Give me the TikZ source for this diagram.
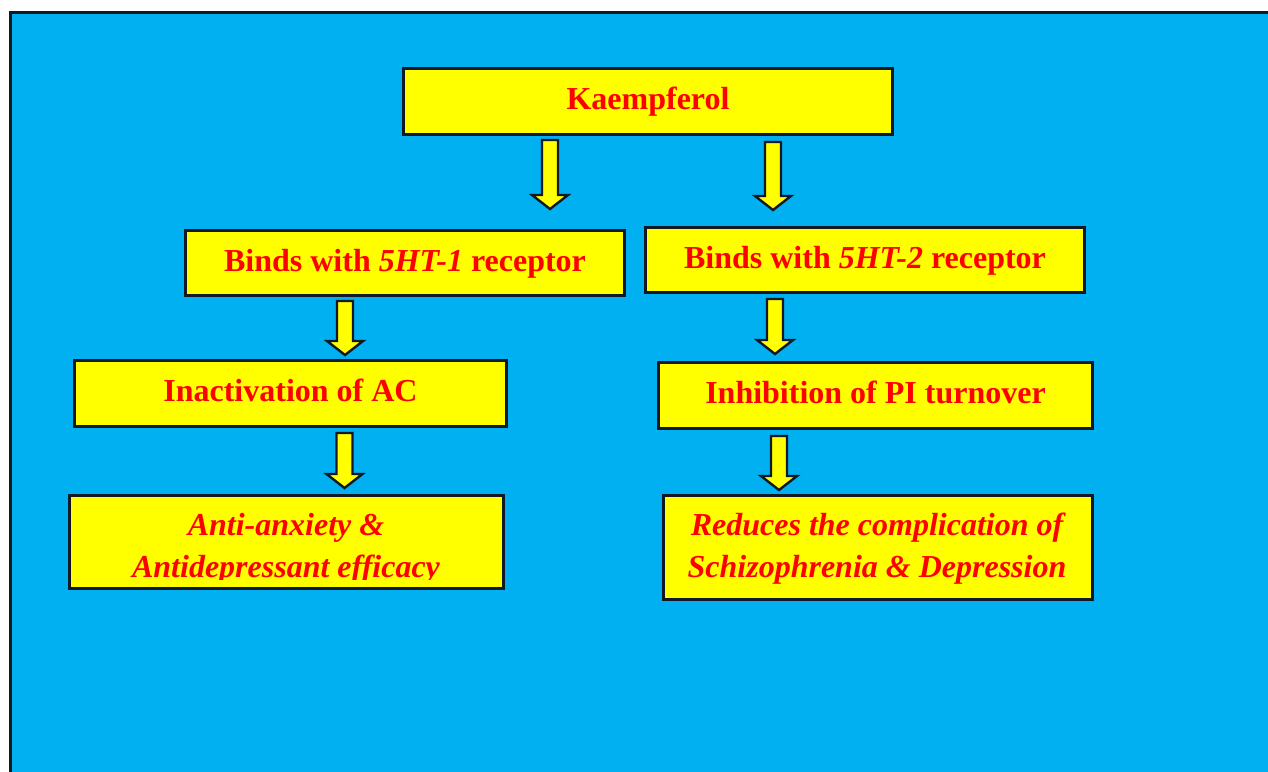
\documentclass[tikz,border=0pt]{standalone}
\usepackage{fontspec}
\setmainfont{Liberation Serif}
\definecolor{bg}{HTML}{00B0F0}
\definecolor{edge}{RGB}{18,24,36}
\definecolor{boxfill}{HTML}{FFFF00}
\definecolor{txtred}{HTML}{FF0000}
\newcommand\blockarr[3]{%
  \draw[arrowsty] (#1-8,#2) -- (#1+8,#2) -- (#1+8,#3-14) -- (#1+18,#3-14)
    -- (#1,#3) -- (#1-18,#3-14) -- (#1-8,#3-14) -- cycle;}
\begin{document}
\begin{tikzpicture}[x=1pt,y=-1pt,
  box/.style={draw=edge, line width=2.6, fill=boxfill, inner sep=0pt,
    text=txtred, font=\bfseries\fontsize{32}{42}\selectfont,
    text height=23pt, text depth=7pt, align=center},
  txt/.style={text=txtred, font=\bfseries\itshape\fontsize{32}{42}\selectfont,
    inner sep=0pt, align=center},
  arrowsty/.style={draw=edge, line width=2.4, fill=boxfill, line join=miter}]
\useasboundingbox (0,0) rectangle (1268,771);
\fill[white] (0,0) rectangle (1268,771);
\clip (0,0) rectangle (1268,771);
\draw[line width=3, draw=edge, fill=bg] (10,12) rectangle (1300,800);

\node[box, minimum width=489, minimum height=66] (k) at (648,101.5) {Kaempferol};
\node[box, minimum width=439, minimum height=65] (b1) at (405,263) {Binds with \textit{5HT-1} receptor};
\node[box, minimum width=439, minimum height=65] (b2) at (865,260) {Binds with \textit{5HT-2} receptor};
\node[box, minimum width=432, minimum height=66] (i1) at (290.5,393.5) {Inactivation of AC};
\node[box, minimum width=434, minimum height=66] (i2) at (875.5,395.5) {Inhibition of PI turnover};
\node[box, minimum width=434, minimum height=93] (r1) at (286.5,542) {};
\node[box, minimum width=429, minimum height=104] (r2) at (878,547.5) {};

\begin{scope}
  \clip (70,495) rectangle (503,579);
  \node[txt, anchor=base] (t1a) at (286,535) {Anti-anxiety \&};
  \node[txt, anchor=base] (t1b) at (286,577) {Antidepressant efficacy};
\end{scope}
\node[txt, anchor=base] (t2a) at (877,535) {Reduces the complication of};
\node[txt, anchor=base] (t2b) at (877,577) {Schizophrenia \& Depression};

\blockarr{550}{140}{209}
\blockarr{773}{142}{210}
\blockarr{345}{301}{355}
\blockarr{344.5}{433}{488}
\blockarr{775}{299}{354}
\blockarr{779}{436}{490}
\end{tikzpicture}
\end{document}
